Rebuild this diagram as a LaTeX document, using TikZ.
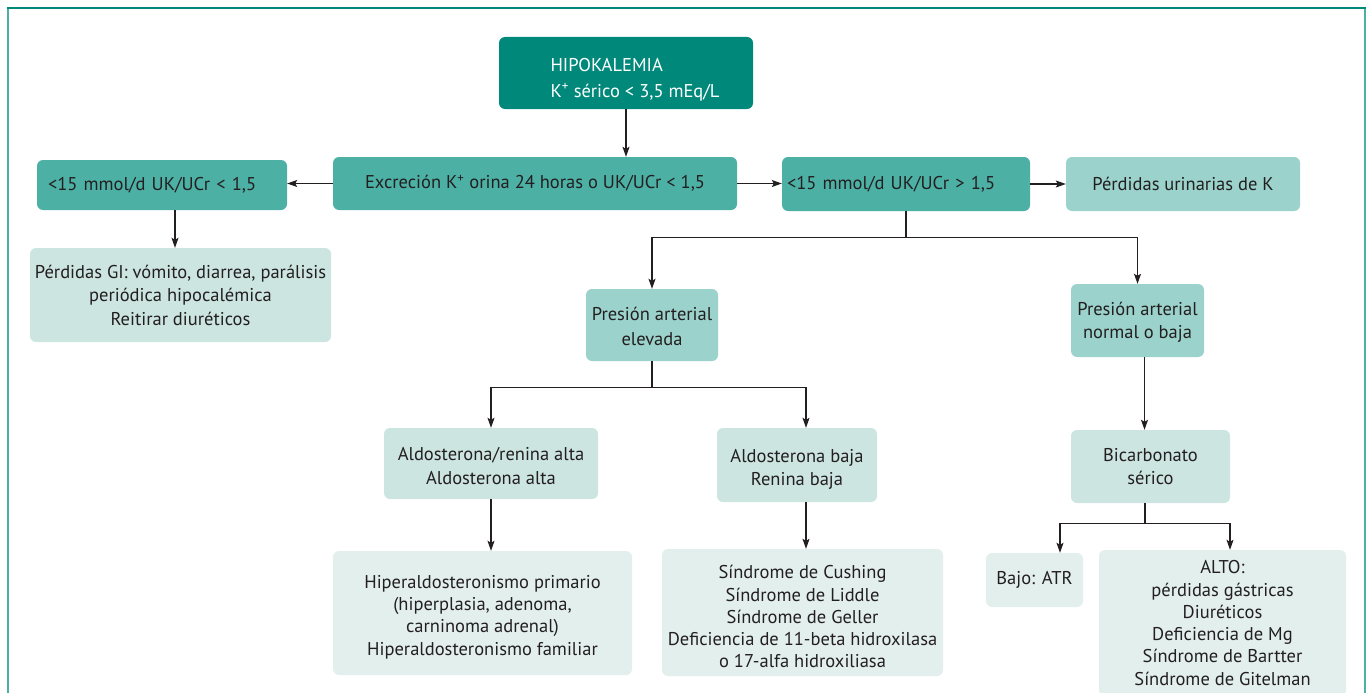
\documentclass[tikz,border=0pt]{standalone}
\usepackage{fontspec}
\setmainfont{PT Sans}
\usetikzlibrary{arrows.meta}
\definecolor{cdark}{HTML}{00897B}
\definecolor{cmed}{HTML}{4DB0A5}
\definecolor{clight}{HTML}{9BD2CB}
\definecolor{cpale}{HTML}{CCE5E1}
\definecolor{cpaler}{HTML}{E3EFEC}
\definecolor{ctext}{HTML}{231F20}
\newcommand\topgap[1]{\rule{0pt}{#1pt}}
\begin{document}
\begin{tikzpicture}[x=1pt,y=-1pt,
 box/.style={rounded corners=6pt, inner sep=0pt, align=center, font=\fontsize{18.5}{23.5}\selectfont, text=ctext},
 tight/.style={font=\fontsize{18.5}{22.3}\selectfont},
 arr/.style={-{Stealth[length=10pt,width=7pt,inset=2pt]}, line width=1.1pt, draw=ctext},
 ln/.style={line width=1.1pt, draw=ctext},
 frame/.style={line width=2pt, draw=cmed}]
\useasboundingbox (0,0) rectangle (1370,693);
\draw[frame] (8,710) -- (8,8);
\draw[frame] (1365,8) -- (1365,710);
\draw[line width=2pt, draw=cdark] (7,8) -- (1366,8);

\node[box, fill=cdark, text=white, minimum width=254pt, minimum height=72pt, align=left, font=\fontsize{18.5}{26}\selectfont] (hipo) at (626,73)
 {\hspace*{18pt}\topgap{26}HIPOKALEMIA\\\hspace*{18pt}K\textsuperscript{+} sérico < 3,5 mEq/L};
\node[box, fill=cmed, minimum width=404pt, minimum height=53pt] (exc) at (535,183.5)
 {Excreción K\textsuperscript{+} orina 24 horas o UK/UCr < 1,5};
\node[box, fill=cmed, minimum width=250pt, minimum height=50pt, inner xsep=11pt, text width=228pt, align=left] (lo) at (162,185)
 {<15 mmol/d UK/UCr < 1,5};
\node[box, fill=cmed, minimum width=248pt, minimum height=54pt, inner xsep=5pt, text width=238pt, align=left] (hi) at (906,184)
 {<15 mmol/d UK/UCr > 1,5};
\node[box, fill=clight, minimum width=234pt, minimum height=54pt] (uri) at (1183,184)
 {Pérdidas urinarias de K};
\node[box, fill=cpale, minimum width=301pt, minimum height=94pt] (gi) at (180.5,295)
 {Pérdidas GI: vómito, diarrea, parálisis\\periódica hipocalémica\\Reitirar diuréticos};
\node[box, fill=clight, minimum width=132pt, minimum height=72pt, font=\fontsize{18.5}{25}\selectfont] (pae) at (652,325)
 {\topgap{17}Presión arterial\\elevada};
\node[box, fill=clight, minimum width=133pt, minimum height=73pt] (pan) at (1137.5,320.5)
 {\topgap{17}Presión arterial\\normal o baja};
\node[box, fill=cpale, minimum width=214pt, minimum height=71pt] (aldo1) at (491,463.5)
 {\topgap{18}Aldosterona/renina alta\\Aldosterona alta};
\node[box, fill=cpale, minimum width=160pt, minimum height=74pt] (aldo2) at (797,465)
 {\topgap{22}Aldosterona baja\\Renina baja};
\node[box, fill=cpale, minimum width=159pt, minimum height=73pt] (bic) at (1150.5,466.5)
 {Bicarbonato\\sérico};
\node[box, tight, fill=cpaler, minimum width=299pt, minimum height=124pt] (hyp) at (482.5,613)
 {\topgap{21}Hiperaldosteronismo primario\\(hiperplasia, adenoma,\\carninoma adrenal)\\Hiperaldosteronismo familiar};
\node[box, tight, fill=cpaler, minimum width=281pt, minimum height=127pt] (sin) at (802.5,612.5)
 {\topgap{22}Síndrome de Cushing\\Síndrome de Liddle\\Síndrome de Geller\\Deficiencia de 11-beta hidroxilasa\\o 17-alfa hidroxiliasa};
\node[box, fill=cpaler, minimum width=97pt, minimum height=54pt] (bajo) at (1034.5,580)
 {Bajo: ATR};
\node[box, tight, fill=cpaler, minimum width=247pt, minimum height=146pt] (alto) at (1222.5,623)
 {ALTO:\\pérdidas gástricas\\Diuréticos\\Deficiencia de Mg\\Síndrome de Bartter\\Síndrome de Gitelman};

\draw[arr] (hipo.south) -- (hipo.south |- exc.north);
\draw[arr] (exc.west) -- (exc.west -| lo.east);
\draw[arr] (exc.east) -- (exc.east -| hi.west);
\draw[arr] (hi.east) -- (hi.east -| uri.west);
\draw[arr] ([xshift=13pt]lo.south) -- ([xshift=13pt]lo.south |- gi.north);
\draw[ln] (hi.south) -- ++(0,26) coordinate (j0);
\draw[arr] (j0) -| (pae.north);
\draw[arr] (j0) -| (pan.north);
\draw[ln] (pae.south) -- ++(0,26) coordinate (j1);
\draw[arr] (j1) -| (aldo1.north);
\draw[arr] (j1) -| ([xshift=9pt]aldo2.north);
\draw[arr] (aldo1.south) -- (aldo1.south |- hyp.north);
\draw[arr] ([xshift=9pt]aldo2.south) -- ([xshift=9pt]aldo2.south |- sin.north);
\draw[arr] ([xshift=7pt]pan.south) -- ([xshift=7pt]pan.south |- bic.north);
\draw[ln] ([xshift=-5.5pt]bic.south) -- ++(0,20) coordinate (j2);
\draw[arr] (j2) -| ([xshift=25.5pt]bajo.north);
\draw[arr] (j2) -| ([xshift=7.5pt]alto.north);
\end{tikzpicture}
\end{document}
